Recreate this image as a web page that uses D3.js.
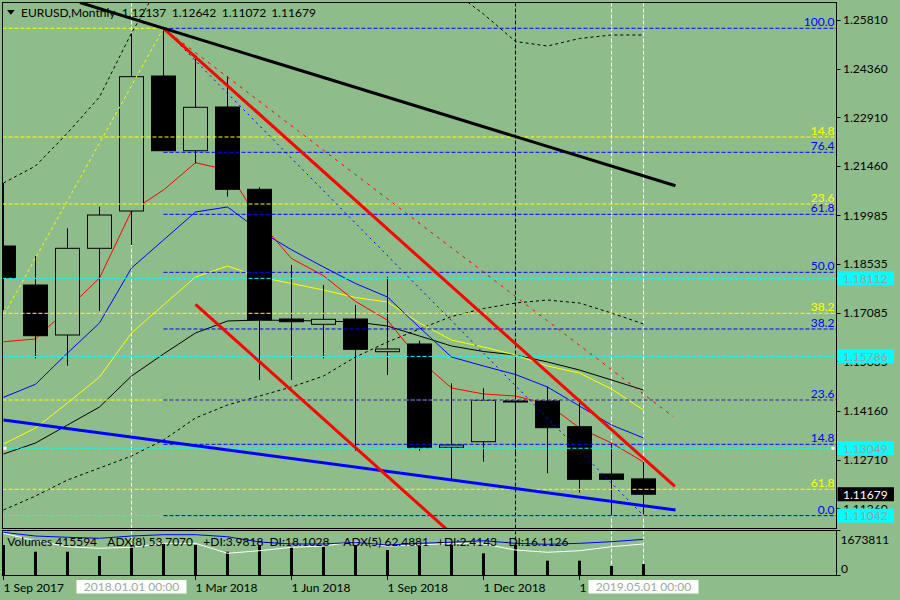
<!DOCTYPE html>
<html><head><meta charset="utf-8">
<script src="https://cdn.jsdelivr.net/npm/d3@7"></script>
<style>
html,body{margin:0;padding:0;background:#8fbc8b;overflow:hidden}
svg{display:block;font-family:Lato,"DejaVu Sans",sans-serif;font-size:12px}
</style>
</head><body>
<svg id="c" width="900" height="600"></svg>
<script>
// ---------------- DATA ----------------
const months = ["2017-09","2017-10","2017-11","2017-12","2018-01","2018-02","2018-03","2018-04","2018-05","2018-06","2018-07","2018-08","2018-09","2018-10","2018-11","2018-12","2019-01","2019-02","2019-03","2019-04","2019-05"];
const opens  = [1.19076,1.17914,1.16424,1.19007,1.20119,1.24141,1.21915,1.23218,1.20765,1.16901,1.16743,1.16901,1.15926,1.16156,1.13078,1.13244,1.14466,1.14466,1.13691,1.12282,1.12137];
const highs  = [1.20953,1.18778,1.19603,1.20247,1.25414,1.25563,1.24767,1.24141,1.20825,1.18510,1.17914,1.17318,1.18161,1.16254,1.14985,1.14836,1.15679,1.14883,1.14487,1.13197,1.12642];
const lows   = [1.17169,1.15730,1.15509,1.17139,1.19106,1.21906,1.21540,1.20545,1.15083,1.15083,1.15730,1.12976,1.15232,1.12976,1.12103,1.12649,1.12869,1.12303,1.11725,1.11061,1.11072];
const closes = [1.18131,1.16403,1.19007,1.19999,1.24121,1.21915,1.23209,1.20765,1.16871,1.16820,1.16892,1.15998,1.16007,1.13066,1.13146,1.14478,1.14427,1.13662,1.12124,1.12124,1.11679];

const maRed    = [1.16224,1.16305,1.17199,1.18122,1.20119,1.20744,1.21558,1.21340,1.19806,1.18703,1.18191,1.17425,1.16865,1.15679,1.14845,1.14666,1.14606,1.14368,1.13653,1.13206,1.12640];
const maBlue   = [1.14567,1.14955,1.15887,1.16781,1.18420,1.19255,1.20089,1.20238,1.19532,1.18965,1.18450,1.17958,1.17556,1.16647,1.15768,1.15500,1.15247,1.14874,1.14308,1.13742,1.13355];
const maYellow = [1.13176,1.13653,1.14398,1.15172,1.16483,1.17318,1.18152,1.18480,1.18152,1.17958,1.17765,1.17541,1.17407,1.16781,1.16275,1.16066,1.15828,1.15500,1.15291,1.14815,1.14189];
const maBlack  = [1.12878,1.13206,1.13742,1.14278,1.15202,1.15858,1.16483,1.16841,1.16871,1.16856,1.16841,1.16811,1.16692,1.16394,1.16096,1.15932,1.15828,1.15619,1.15381,1.15083,1.14785];
const bandUpper= [1.20953,1.21460,1.22443,1.23516,1.25423,1.27061,1.27747,1.28045,1.27896,1.27747,1.27598,1.27449,1.27300,1.27061,1.26704,1.25989,1.25169,1.25035,1.25259,1.25363,1.25363];
const bandLower= [1.11209,1.11626,1.12103,1.12461,1.12818,1.13295,1.13951,1.14338,1.14606,1.14874,1.15202,1.15768,1.16215,1.16603,1.16975,1.17213,1.17377,1.17467,1.17377,1.17079,1.16752];

const volumes  = [1141000,886000,886000,723000,1141000,1206000,1141000,886000,1141000,1077000,1077000,1141000,951000,1103000,1141000,825000,1141000,544000,544000,342000,415594];
const adxBlue  = [97.0,88.6,85.7,83.4,88.6,91.6,91.6,87.0,75.0,70.5,70.5,74.3,68.2,72.0,74.5,78.0,72.0,69.8,72.0,75.7,81.1];
const adxWhite = [94.8,78.0,64.3,60.7,63.0,72.0,72.0,49.3,55.2,63.0,65.9,75.7,65.9,68.2,72.0,70.5,56.8,51.6,55.2,64.3,70.5];

const priceTicks = [1.25810,1.24360,1.22910,1.21460,1.19985,1.18535,1.17085,1.15635,1.14160,1.12710,1.11260];
const volTickLabels = ["1673811","0"];
const timeTickIdx = [0,6,9,12,15,18];
const timeTickLabels = ["1 Sep 2017","1 Mar 2018","1 Jun 2018","1 Sep 2018","1 Dec 2018","1 Mar 2019"];
const markerIdx = [4,20];
const markerLabels = ["2018.01.01 00:00","2019.05.01 00:00"];
const vLineWhiteIdx = [4,19,20];
const vLineBlackIdx = [16];

const fibBlueLabels = ["100.0","76.4","61.8","50.0","38.2","23.6","14.8","0.0"];
const fibBluePrices = [1.25563,1.21868,1.20020,1.18292,1.16603,1.14487,1.13167,1.11042];
const fibYellowLabels = ["0.0","14.8","23.6","38.2","50.0","61.8"];
const fibYellowPrices = [1.25563,1.22324,1.20327,1.17070,1.14487,1.11826];
const fibYellowShown  = [false,true,true,true,false,true];
const cyanLevels = [1.18112,1.15786,1.13049,1.11042];
const lastPrice = 1.11679;

const header = ["EURUSD,Monthly","1.12137","1.12642","1.11072","1.11679"];
const subLabels = ["Volumes 415594","ADX(8) 53.7070","+DI:3.9818","-DI:18.1028","ADX(5) 62.4881","+DI:2.4143","-DI:16.1126"];

// trend objects: [monthIndex, price]
const trendBlack = [[2.39,1.2633],[21,1.2087]];
const trendRedUpper = [[5,1.25563],[20.98,1.1191]];
const trendRedLower = [[6,1.17339],[14,1.10504]];
const trendBlue = [[0,1.1389],[21,1.1121]];
const rayRedDashed = [[5,1.25563],[20.93,1.13990]];
const fibBlueDiag = [[5,1.25563],[20,1.11042]];
const fibYellowDiag = [[-8,1.0331],[5,1.25563]];

// ---------------- DRAW ----------------
const svg = d3.select("#c");
const BG = "#8fbc8b";
const L = 2.5, R = 836.5, T = 2.5, B = 528.5, IT = 530.5, IB = 575.5;

const x = d3.scaleLinear().domain([0,1]).range([3.5,35.5]);
const y = d3.scaleLinear().domain([1.11260,1.25810]).range([508.3,20]);
const yv = d3.scaleLinear().domain([0,1673811]).range([575,531]);
const ya = d3.scaleLinear().domain([0,100]).range([575,531]);

svg.append("rect").attr("width",900).attr("height",600).attr("fill",BG);

const defs = svg.append("defs");
defs.append("clipPath").attr("id","cm").append("rect").attr("x",L+0.5).attr("y",T+0.5).attr("width",R-L-1).attr("height",B-T-1);
defs.append("clipPath").attr("id","ci").append("rect").attr("x",L+0.5).attr("y",IT+0.5).attr("width",R-L-1).attr("height",IB-IT-1);

// vertical separator lines (background)
const vg = svg.append("g");
vLineWhiteIdx.forEach(i=>{
  vg.append("line").attr("x1",x(i)).attr("x2",x(i)).attr("y1",T).attr("y2",IB)
    .attr("stroke","#fff").attr("stroke-width",1).attr("stroke-dasharray","4,2");
});
vLineBlackIdx.forEach(i=>{
  vg.append("line").attr("x1",x(i)).attr("x2",x(i)).attr("y1",T).attr("y2",IB)
    .attr("stroke","#000").attr("stroke-width",1).attr("stroke-dasharray","4,2");
});

const main = svg.append("g").attr("clip-path","url(#cm)");
const idx = d3.range(months.length);
const lineGen = d3.line().x(d=>x(d[0])).y(d=>y(d[1]));
function series(vals,color,dash){
  main.append("path").attr("d",lineGen(vals.map((v,i)=>[i,v])))
    .attr("fill","none").attr("stroke",color).attr("stroke-width",1)
    .attr("stroke-dasharray",dash||null);
}
series(bandUpper,"#000","3,3");
series(bandLower,"#000","3,3");
series(maBlack,"#000");
series(maYellow,"#ffff00");
series(maBlue,"#0000ff");
series(maRed,"#ff0000");

// candles
const cg = main.append("g");
idx.forEach(i=>{
  const xc = x(i), o=opens[i], c=closes[i];
  cg.append("line").attr("x1",xc).attr("x2",xc).attr("y1",y(highs[i])).attr("y2",y(lows[i]))
    .attr("stroke","#000").attr("stroke-width",1);
  const top = y(Math.max(o,c)), bot = y(Math.min(o,c));
  cg.append("rect").attr("x",xc-12).attr("width",24).attr("y",top).attr("height",Math.max(1,bot-top))
    .attr("fill", c>=o ? BG : "#000").attr("stroke","#000").attr("stroke-width",1);
});

// horizontal levels
const hg = main.append("g");
fibYellowPrices.forEach((p,k)=>{
  hg.append("line").attr("x1",L).attr("x2",k===0?x(5):R).attr("y1",y(p)).attr("y2",y(p))
    .attr("stroke","#ffff00").attr("stroke-dasharray","4,2");
});
cyanLevels.forEach(p=>{
  hg.append("line").attr("x1",L).attr("x2",R).attr("y1",y(p)).attr("y2",y(p))
    .attr("stroke","#00ffff").attr("stroke-dasharray","4,2");
});
fibBluePrices.forEach(p=>{
  hg.append("line").attr("x1",x(5)).attr("x2",R).attr("y1",y(p)).attr("y2",y(p))
    .attr("stroke","#0000ff").attr("stroke-dasharray","4,2");
});

// trend lines & diagonals
function seg(pts,color,w,dash){
  main.append("path").attr("d",lineGen(pts)).attr("fill","none").attr("stroke",color)
    .attr("stroke-width",w).attr("stroke-dasharray",dash||null);
}
seg(fibYellowDiag,"#ffff00",1,"3,3");
seg(fibBlueDiag,"#0000ff",1,"2,4");
seg(rayRedDashed,"#ff0000",1,"3,5");
seg(trendBlue,"#0000ff",3);
seg(trendRedUpper,"#ff0000",3);
seg(trendRedLower,"#ff0000",3);
seg(trendBlack,"#000",3);

// anchor squares on the cyan level
[L+2.5, R-3.5].forEach(px=>{
  main.append("rect").attr("x",px-1.5).attr("y",y(cyanLevels[2])-1.5).attr("width",3).attr("height",3).attr("fill","#fff");
});

// fib labels
fibYellowPrices.forEach((p,k)=>{
  if(!fibYellowShown[k]) return;
  svg.append("text").attr("x",834.5).attr("y",y(p)-2).attr("text-anchor","end").attr("fill","#ffff00").text(fibYellowLabels[k]);
});
fibBluePrices.forEach((p,k)=>{
  svg.append("text").attr("x",834.5).attr("y",y(p)-2).attr("text-anchor","end").attr("fill","#0000ff").text(fibBlueLabels[k]);
});

// indicator window
const ind = svg.append("g").attr("clip-path","url(#ci)");
idx.forEach(i=>{
  ind.append("line").attr("x1",x(i)).attr("x2",x(i)).attr("y1",yv(0)).attr("y2",yv(volumes[i]))
    .attr("stroke","#000").attr("stroke-width",3);
});
const aLine = d3.line().x((d,i)=>x(i)).y(d=>ya(d));
ind.append("path").attr("d",aLine(adxWhite)).attr("fill","none").attr("stroke","#fff");
ind.append("path").attr("d",aLine(adxBlue)).attr("fill","none").attr("stroke","#0000ff");
const subX = [7.3,107.3,203.3,265,343.3,437,504];
subLabels.forEach((t,k)=>{
  svg.append("text").attr("x",subX[k]).attr("y",546).attr("fill","#000").text(t);
});

// panel borders
svg.append("rect").attr("x",L).attr("y",T).attr("width",R-L).attr("height",B-T).attr("fill","none").attr("stroke","#000");
svg.append("rect").attr("x",L).attr("y",IT).attr("width",R-L).attr("height",IB-IT).attr("fill","none").attr("stroke","#000");

// right price axis
priceTicks.forEach(p=>{
  svg.append("line").attr("x1",R).attr("x2",R+4).attr("y1",Math.round(y(p))+0.5).attr("y2",Math.round(y(p))+0.5).attr("stroke","#000");
  svg.append("text").attr("x",843).attr("y",y(p)+4.3).attr("fill","#000").text(p.toFixed(5));
});
// sub-window axis
[[IT,540],[IB,568.5]].forEach((d,k)=>{
  svg.append("line").attr("x1",R).attr("x2",R+4).attr("y1",d[0]).attr("y2",d[0]).attr("stroke","#000");
  svg.append("text").attr("x",k===0?840.5:841).attr("y",d[1]+4.3).attr("fill","#000").text(volTickLabels[k]);
});
// price labels
cyanLevels.forEach(p=>{
  svg.append("rect").attr("x",837.5).attr("y",y(p)-7).attr("width",56.5).attr("height",14).attr("fill","#00ffff");
  svg.append("text").attr("x",843).attr("y",y(p)+4.3).attr("fill","#a0a0a0").text(p.toFixed(5));
});
svg.append("rect").attr("x",837.5).attr("y",y(lastPrice)-7).attr("width",56.5).attr("height",14).attr("fill","#000");
svg.append("text").attr("x",843).attr("y",y(lastPrice)+4.3).attr("fill","#fff").text(lastPrice.toFixed(5));

// time axis
timeTickIdx.forEach((i,k)=>{
  const px = Math.floor(x(i))+0.5;
  svg.append("line").attr("x1",px).attr("x2",px).attr("y1",IB).attr("y2",IB+4.5).attr("stroke","#000");
  svg.append("text").attr("x",px).attr("y",591.5).attr("fill","#000").text(timeTickLabels[k]);
});
markerIdx.forEach((i,k)=>{
  const cx = x(i);
  svg.append("rect").attr("x",cx-55).attr("y",580).attr("width",110).attr("height",13.5).attr("fill","#fff");
  svg.append("text").attr("x",cx).attr("y",591).attr("text-anchor","middle").attr("fill","#a0a8a0").text(markerLabels[k]);
});

// header
svg.append("path").attr("d","M7,10 L14.7,10 L10.85,14.7 Z").attr("fill","#000");
const hx = [21,121.7,171.7,221.7,271.3];
header.forEach((t,k)=>{
  svg.append("text").attr("x",hx[k]).attr("y",17).attr("fill","#000").text(t);
});
</script>
</body></html>
